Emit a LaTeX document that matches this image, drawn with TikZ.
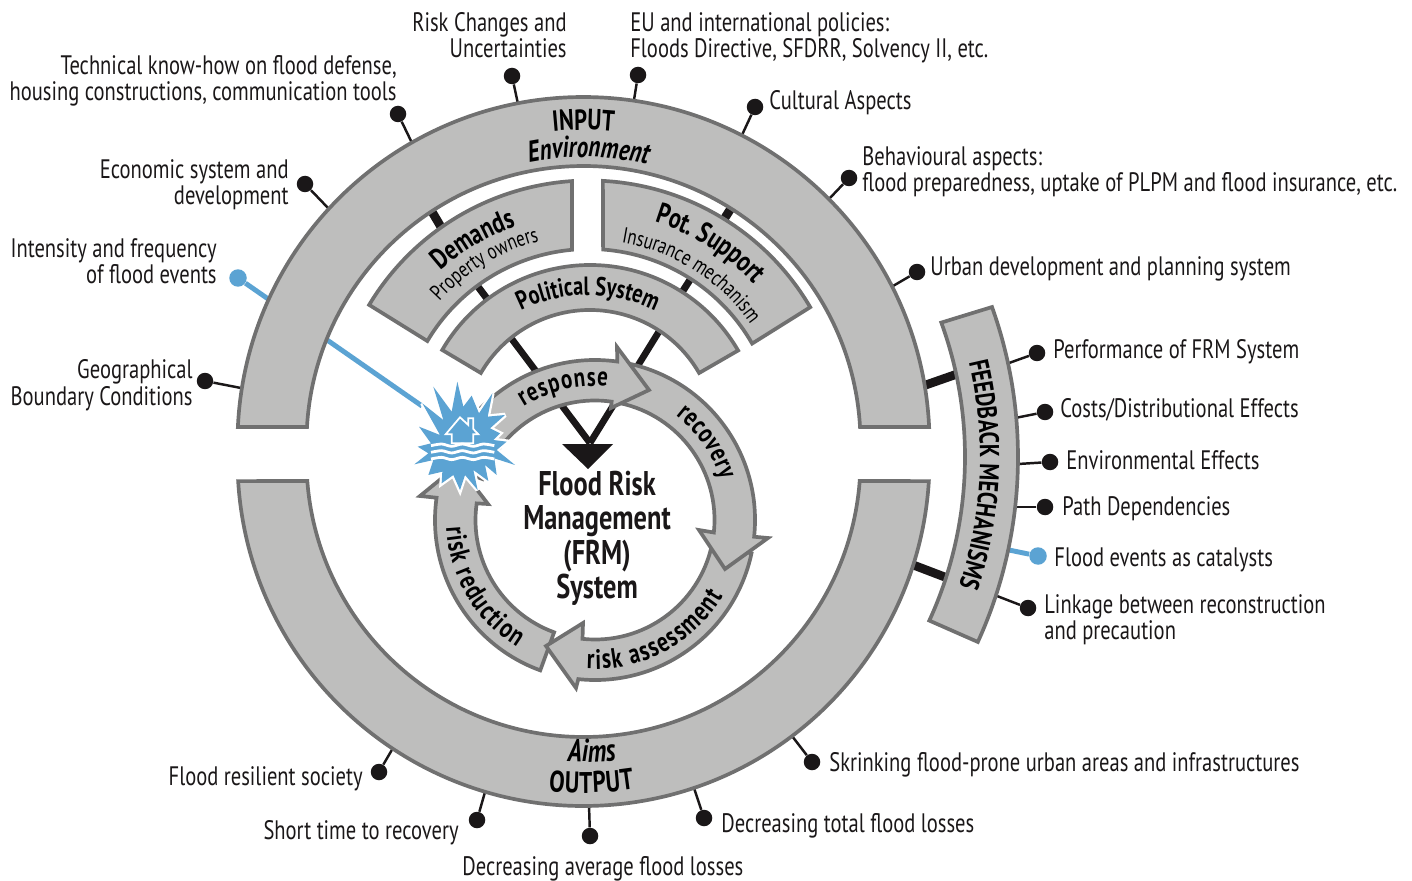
\documentclass[tikz,border=0pt]{standalone}
\usepackage{fontspec}
\setmainfont[FakeStretch=0.77]{PT Sans}
\usepackage{xcolor}
\usetikzlibrary{calc,decorations.text}
\definecolor{bandgrey}{RGB}{190,190,189}
\definecolor{edgegrey}{RGB}{112,112,112}
\definecolor{inkblack}{RGB}{26,23,24}
\definecolor{floodblue}{RGB}{91,163,211}
\newcommand{\lblfont}{\fontsize{15.2}{14.8}\selectfont}
% band: centre, outer radius, inner radius, outer angles, inner angles
\newcommand{\arcband}[8]{\draw[band,shift={(#1,#2)}] (#5:#3) arc[start angle=#5,end angle=#6,radius=#3] -- (#8:#4) arc[start angle=#8,end angle=#7,radius=#4] -- cycle;}
% cycle arrow: start angle, end angle, outer barb, tip, inner barb
\newcommand{\cyclearrow}[5]{\draw[band] ($(cyc)+(#1:160)$) arc[start angle=#1,end angle=#2,radius=160] -- (#3) -- (#4) -- (#5) -- ($(cyc)+(#2:119.5)$) arc[start angle=#2,end angle=#1,radius=119.5] -- cycle;}
% curved label: centre, radius, mid angle, half span, font, text
\newcommand{\curvelabel}[6]{\path[decorate,decoration={text along path,text={|#5|#6},text align=center}] ($(#1)+({#3+#4}:#2)$) arc[start angle={#3+#4},end angle={#3-#4},radius=#2];}
% same, with the letters spread over the whole span
\newcommand{\fitlabel}[6]{\path[decorate,decoration={text along path,text={|#5|#6},text align=fit to path}] ($(#1)+({#3+#4}:#2)$) arc[start angle={#3+#4},end angle={#3-#4},radius=#2];}

\begin{document}
\begin{tikzpicture}[x=0.02cm,y=0.02cm,
    band/.style={draw=edgegrey,fill=bandgrey,line width=2.1pt,line join=miter},
    dot/.style={circle,fill=inkblack,inner sep=0pt,minimum size=0.33cm},
    bluedot/.style={circle,fill=floodblue,inner sep=0pt,minimum size=0.35cm},
    stem/.style={draw=inkblack,line width=1.4pt},
    bluestem/.style={draw=floodblue,line width=2.8pt},
    bar/.style={draw=inkblack,line width=5pt},
    thinbar/.style={draw=inkblack,line width=4pt},
    lblr/.style={inner sep=0pt,font=\lblfont,text=inkblack,anchor=base east,align=right},
    lbll/.style={inner sep=0pt,font=\lblfont,text=inkblack,anchor=base west,align=left}]
    \useasboundingbox (0,0) rectangle (1412,880);
    % centres
    \coordinate (inp) at (583.5,437);
    \coordinate (outp) at (583.5,420);
    \coordinate (dem) at (589,443);
    \coordinate (pol) at (588,434);
    \coordinate (cyc) at (595,360);
    \coordinate (fbk) at (572,423);

    % input dots
    \node[dot] (dotrisk) at (512,804) {};
    \node[dot] (doteu) at (638,805) {};
    \node[dot] (dotcult) at (755,773) {};
    \node[dot] (dotbeh) at (849,702) {};
    \node[dot] (doturb) at (917,608) {};
    \node[dot] (dottech) at (398,766) {};
    \node[dot] (dotecon) at (305,696) {};
    \node[bluedot] (dotint) at (238,602) {};
    \node[dot] (dotgeo) at (205,499) {};
    \coordinate (endrisk) at (518,776);
    \coordinate (endeu) at (634,780);
    \coordinate (endcult) at (742,745);
    \coordinate (endbeh) at (829,681);
    \coordinate (endurb) at (893,594);
    \coordinate (endtech) at (412,737);
    \coordinate (endecon) at (329,671);
    \coordinate (endburst) at (422,474);
    \coordinate (endgeo) at (241,492);
    \draw[stem] (dotrisk) -- (endrisk);
    \draw[stem] (doteu) -- (endeu);
    \draw[stem] (dotcult) -- (endcult);
    \draw[stem] (dotbeh) -- (endbeh);
    \draw[stem] (doturb) -- (endurb);
    \draw[stem] (dottech) -- (endtech);
    \draw[stem] (dotecon) -- (endecon);
    \draw[bluestem] (dotint) -- (endburst);
    \draw[stem] (dotgeo) -- (endgeo);

    % feedback dots
    \node[dot] (dotperf) at (1037,527) {};
    \node[dot] (dotcost) at (1045,468) {};
    \node[dot] (dotenv) at (1050,418) {};
    \node[dot] (dotpath) at (1045,373) {};
    \node[bluedot] (dotcat) at (1038,324) {};
    \node[dot] (dotlink) at (1028,272) {};
    \coordinate (endperf) at (1009,517);
    \coordinate (endcost) at (1015,462);
    \coordinate (endenv) at (1018,416);
    \coordinate (endpath) at (1015,373);
    \coordinate (endcat) at (1009,330);
    \coordinate (endlink) at (997,284);
    \draw[stem] (dotperf) -- (endperf);
    \draw[stem] (dotcost) -- (endcost);
    \draw[stem] (dotenv) -- (endenv);
    \draw[stem] (dotpath) -- (endpath);
    \draw[bluestem] (dotcat) -- (endcat);
    \draw[stem] (dotlink) -- (endlink);

    % output dots
    \node[dot] (dotres) at (379,108) {};
    \node[dot] (dotshort) at (477,60) {};
    \node[dot] (dotavg) at (590,44) {};
    \node[dot] (dottot) at (704,62) {};
    \node[dot] (dotskr) at (812,118) {};
    \coordinate (endres) at (393,132);
    \coordinate (endshort) at (485,88);
    \coordinate (endavg) at (589,75);
    \coordinate (endtot) at (694,92);
    \coordinate (endskr) at (792,144);
    \draw[stem] (dotres) -- (endres);
    \draw[stem] (dotshort) -- (endshort);
    \draw[stem] (dotavg) -- (endavg);
    \draw[stem] (dottot) -- (endtot);
    \draw[stem] (dotskr) -- (endskr);

    % bars between the bands
    \coordinate (barda) at (428,675);
    \coordinate (bardb) at (444,648);
    \coordinate (barpa) at (735,678);
    \coordinate (barpb) at (721,656);
    \coordinate (barla) at (473,600);
    \coordinate (barlb) at (491,576);
    \coordinate (barra) at (679,583);
    \coordinate (barrb) at (695,608);
    \coordinate (barfa) at (920,493);
    \coordinate (barfb) at (960,507);
    \coordinate (barga) at (908,317);
    \coordinate (bargb) at (950,301);
    \draw[bar] (barda) -- (bardb);
    \draw[bar] (barpa) -- (barpb);
    \draw[thinbar] (barla) -- (barlb);
    \draw[thinbar] (barra) -- (barrb);
    \draw[bar] (barfa) -- (barfb);
    \draw[bar] (barga) -- (bargb);

    % big arrow into the cycle
    \coordinate (vleft) at (505,550);
    \coordinate (vright) at (663,555);
    \coordinate (vtip) at (590,437);
    \draw[draw=inkblack,line width=3.8pt] (vleft) -- (vtip);
    \draw[draw=inkblack,line width=3.8pt] (vright) -- (vtip);
    \fill[inkblack] (562,436) -- (613,436) -- (588,411) -- cycle;

    % bands
    \arcband{583.5}{437}{346}{277}{177.35}{2.65}{176.7}{3.3}
    \arcband{583.5}{420}{346}{277}{-176.5}{-3.5}{-175.65}{-4.35}
    \arcband{589}{443}{256.5}{188}{149}{93.8}{149.3}{95.2}
    \arcband{589}{443}{256.5}{188}{30.4}{86.9}{29.8}{85.7}
    \arcband{590}{444}{171}{126}{149.8}{30}{150}{30}
    \arcband{572}{423}{446}{393}{19.65}{-24.5}{20}{-24.6}

    % cycle arrows
    \cyclearrow{-110}{-188}{420,384}{458,415}{488,376}
    \cyclearrow{-12}{-96}{576,192}{546,234}{583,257}
    \cyclearrow{78}{-6}{768,342}{725,311}{699,350}
    \cyclearrow{160}{82}{617,533}{649,490}{611,472}

    % flood burst
    \begin{scope}[shift={(405,505)},x=0.00667cm,y=-0.00667cm]
        \def\burstpath{(157,20) -- (175,95) -- (200,62) -- (222,115) -- (262,55) -- (248,125) -- (300,120) -- (255,160) -- (285,175) -- (265,195) -- (305,200) -- (275,225) -- (330,270) -- (268,250) -- (275,300) -- (240,270) -- (250,318) -- (205,285) -- (218,345) -- (180,300) -- (165,345) -- (145,300) -- (110,325) -- (112,290) -- (70,300) -- (85,255) -- (28,268) -- (70,235) -- (38,215) -- (78,205) -- (42,155) -- (105,180) -- (52,85) -- (115,135) -- (85,35) -- (140,110) -- cycle}
        \draw[draw=white,fill=white,line width=2.6pt,line join=miter,miter limit=3] \burstpath;
        \fill[floodblue] \burstpath;
        \draw[draw=white,line width=1pt] (122,178) -- (165,127) -- (190,150) -- (190,130) -- (205,130) -- (205,162) -- (220,178) -- (205,178) -- (205,205) -- (140,205) -- (140,178) -- cycle;
        \draw[draw=white,line width=1.6pt] plot[smooth] coordinates {(78,212) (110,207) (140,214) (172,207) (205,214) (235,207) (268,212)};
        \draw[draw=white,line width=1.6pt] plot[smooth] coordinates {(78,232) (110,227) (140,234) (172,227) (205,234) (235,227) (268,232)};
        \draw[draw=white,line width=1.6pt] plot[smooth] coordinates {(78,252) (110,247) (140,254) (172,247) (205,254) (235,247) (268,252)};
    \end{scope}

    % curved labels
    \curvelabel{inp}{313}{90}{30}{\fontsize{16.6}{16}\selectfont\bfseries}{INPUT}
    \curvelabel{inp}{286}{89}{30}{\fontsize{17}{14}\selectfont\bfseries\itshape}{Environment}
    \curvelabel{outp}{302}{-88.4}{-30}{\fontsize{18}{14}\selectfont\bfseries\itshape}{Aims}
    \fitlabel{outp}{333}{-88.6}{-7.4}{\fontsize{17}{16}\selectfont\bfseries}{OUTPUT}
    \curvelabel{dem}{223}{120.5}{30}{\fontsize{16.5}{15}\selectfont\bfseries}{Demands}
    \curvelabel{dem}{202}{121}{30}{\fontsize{12.5}{13}\selectfont}{Property owners}
    \curvelabel{dem}{225}{57.9}{30}{\fontsize{16.5}{15}\selectfont\bfseries}{Pot. Support}
    \curvelabel{dem}{197}{57.7}{30}{\fontsize{12.5}{13}\selectfont}{Insurance mechanism}
    \curvelabel{pol}{151}{90}{40}{\fontsize{15}{14}\selectfont\bfseries}{Political System}
    \curvelabel{fbk}{408}{-2.5}{30}{\fontsize{15.6}{14}\selectfont\bfseries}{FEEDBACK MECHANISMS}
    \fitlabel{cyc}{134}{103.4}{18.8}{\fontsize{15.5}{14}\selectfont\bfseries}{response}
    \fitlabel{cyc}{132}{35}{17.2}{\fontsize{15.5}{14}\selectfont\bfseries}{recovery}
    \fitlabel{cyc}{149}{-62}{-31.2}{\fontsize{16}{14}\selectfont\bfseries}{risk assessment}
    \fitlabel{cyc}{149}{210.7}{-27.9}{\fontsize{16}{14}\selectfont\bfseries}{risk reduction}

    % centre title
    \node[inner sep=0pt,align=center,anchor=base,text=inkblack,font=\fontsize{19.5}{19.6}\selectfont\bfseries] (title) at (597,281.5) {Flood Risk\\Management\\(FRM)\\System};

    % labels
    \node[lblr] (txtrisk) at (567,822) {Risk Changes and\\Uncertainties};
    \node[lblr] (txttech) at (397,779) {Technical know-how on flood defense,\\housing constructions, communication tools};
    \node[lblr] (txtecon) at (289,675) {Economic system and\\development};
    \node[lblr] (txtint) at (217,596) {Intensity and frequency\\of flood events};
    \node[lblr] (txtgeo) at (193,475) {Geographical\\Boundary Conditions};
    \node[lbll] (txteu) at (630,822) {EU and international policies:\\Floods Directive, SFDRR, Solvency II, etc.};
    \node[lbll] (txtcult) at (769,770) {Cultural Aspects};
    \node[lbll] (txtbeh) at (862,688) {Behavioural aspects:\\flood preparedness, uptake of PLPM and flood insurance, etc.};
    \node[lbll] (txturb) at (930,604) {Urban development and planning system};
    \node[lbll] (txtperf) at (1053,521) {Performance of FRM System};
    \node[lbll] (txtcost) at (1060,463) {Costs/Distributional Effects};
    \node[lbll] (txtenv) at (1066,411) {Environmental Effects};
    \node[lbll] (txtpath) at (1062,365) {Path Dependencies};
    \node[lbll] (txtcat) at (1054,314) {Flood events as catalysts};
    \node[lbll] (txtlink) at (1044,241) {Linkage between reconstruction\\and precaution};
    \node[lbll] (txtskr) at (829,109) {Skrinking flood-prone urban areas and infrastructures};
    \node[lbll] (txttot) at (721,48) {Decreasing total flood losses};
    \node[lbll] (txtavg) at (462,5) {Decreasing average flood losses};
    \node[lblr] (txtshort) at (459,41) {Short time to recovery};
    \node[lblr] (txtres) at (363,95) {Flood resilient society};
\end{tikzpicture}
\end{document}
